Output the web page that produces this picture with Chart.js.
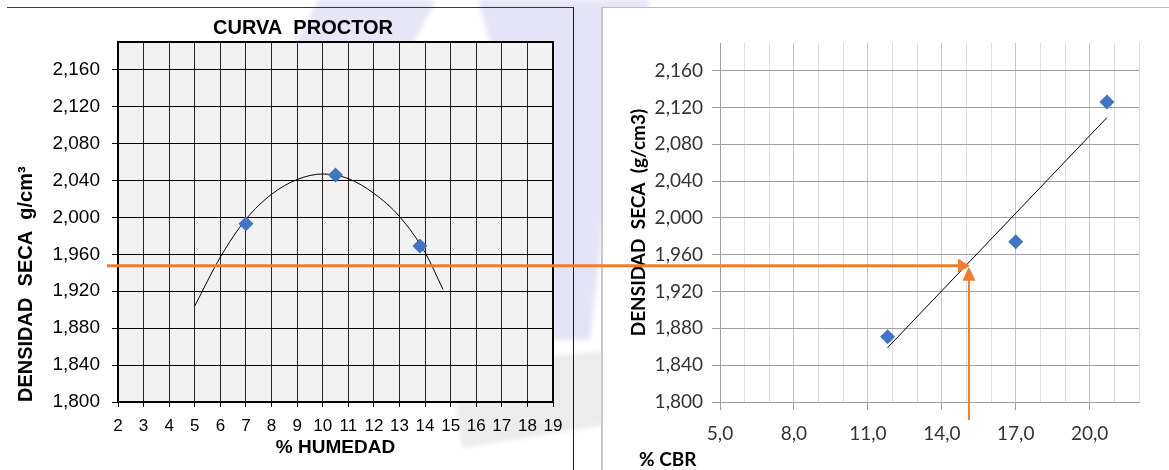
<!DOCTYPE html>
<html>
<head>
<meta charset="utf-8">
<title>Curva Proctor y CBR</title>
<script src="https://cdn.jsdelivr.net/npm/chart.js@4.4.1/dist/chart.umd.min.js"></script>
<style>
  html, body { margin: 0; padding: 0; background: #fff; }
  body { width: 1169px; height: 470px; position: relative; overflow: hidden; }
  .abs { position: absolute; left: 0; top: 0; }
  #marca { z-index: 0; }
  #linea-sup { position: absolute; left: 7px; top: 7px; width: 566px; height: 1px; background: #3a3a3a; z-index: 1; }
  #linea-div { position: absolute; left: 573px; top: 7px; width: 1px; height: 463px; background: #1a1a1a; z-index: 1; }
  #panel-cbr { position: absolute; left: 601px; top: 7px; width: 568px; height: 463px; background: #fff;
               border-left: 2px solid #c8c8c8; border-top: 1px solid #bdbdbd; box-sizing: border-box; z-index: 1; }
  #proctor { z-index: 2; }
  #cbr { z-index: 3; }
</style>
</head>
<body>
<svg id="marca" class="abs" width="1169" height="470">
  <defs><filter id="suave"><feGaussianBlur stdDeviation="2.5"/></filter></defs>
  <g filter="url(#suave)">
    <polygon points="318,0 436,0 412,46 294,46" fill="#e6e6f7"/>
    <polygon points="478,0 650,0 612,150 590,340 548,340 520,150" fill="#e4e4f6"/>
    <polygon points="452,366 612,350 612,424 462,448" fill="#ececec"/>
  </g>
</svg>
<div id="linea-sup"></div>
<div id="linea-div"></div>
<div id="panel-cbr"></div>
<canvas id="proctor" class="abs" width="573" height="470"></canvas>
<canvas id="cbr" class="abs" width="1169" height="470"></canvas>

<script>
// Ensayo Proctor: humedad (%) y densidad seca (g/cm3)
const humedad = [7.0, 10.5, 13.8];
const densidadProctor = [1.993, 2.046, 1.969];

// Curva de compactación trazada sobre los puntos
const curvaHumedad = [5, 6, 7, 8, 9, 10, 11, 12, 13, 14, 14.7];
const curvaDensidad = [1.904, 1.957, 1.998, 2.025, 2.041, 2.047, 2.042, 2.026, 2.001, 1.962, 1.922];

// Ensayo CBR: % CBR y densidad seca (g/cm3)
const cbr = [11.8, 17.0, 20.7];
const densidadCbr = [1.871, 1.974, 2.126];

// Línea de tendencia CBR
const tendenciaCbr = [11.8, 20.7];
const tendenciaDensidad = [1.859, 2.109];

// Lectura: densidad de diseño llevada a la recta del CBR
const densidadDiseno = 1.948;
const cbrDiseno = 15.1;

// Ejes
const densidadTicks = [1.800, 1.840, 1.880, 1.920, 1.960, 2.000, 2.040, 2.080, 2.120, 2.160];
const humedadTicks = [2, 3, 4, 5, 6, 7, 8, 9, 10, 11, 12, 13, 14, 15, 16, 17, 18, 19];
const cbrGrid = [5, 6, 7, 8, 9, 10, 11, 12, 13, 14, 15, 16, 17, 18, 19, 20, 21, 22];
const cbrLabels = [5, 8, 11, 14, 17, 20];

const NARROW = '"Liberation Sans Narrow", "Arial Narrow", "Liberation Sans", Arial, sans-serif';
const ARIAL = '"Liberation Sans", Arial, sans-serif';
const CALIBRI = 'Lato, "Open Sans", sans-serif';
const AZUL = '#4472c4';
const NARANJA = '#ed7d31';

const coma = (v, d) => v.toFixed(d).replace('.', ',');
const pares = (xs, ys) => xs.map((x, i) => ({ x: x, y: ys[i] }));
const fijarTicks = lista => scale => { scale.ticks = lista.map(v => ({ value: v })); };

// Fondo y marco del área de trazado
const marcoArea = {
  id: 'marcoArea',
  beforeDraw(chart, args, opts) {
    if (!opts.fill) return;
    const { ctx, chartArea: a } = chart;
    ctx.save();
    ctx.fillStyle = opts.fill;
    ctx.fillRect(a.left, a.top, a.width, a.height);
    ctx.restore();
  },
  afterDraw(chart, args, opts) {
    if (!opts.stroke) return;
    const { ctx, chartArea: a } = chart;
    ctx.save();
    ctx.strokeStyle = opts.stroke;
    ctx.lineWidth = 2;
    ctx.strokeRect(a.left, a.top, a.width, a.height);
    ctx.restore();
  }
};

// Textos sueltos colocados respecto al área de trazado
const rotulos = {
  id: 'rotulos',
  afterDraw(chart, args, opts) {
    const { ctx, chartArea: a } = chart;
    (opts.items || []).forEach(r => {
      ctx.save();
      ctx.font = r.font;
      ctx.fillStyle = r.color;
      ctx.textAlign = r.align;
      ctx.textBaseline = 'middle';
      ctx.fillText(r.text, a.left + r.dx, (r.desdeAbajo ? a.bottom : a.top) + r.dy);
      ctx.restore();
    });
  }
};

// Flechas naranjas: densidad de diseño -> recta -> CBR
const flechas = {
  id: 'flechas',
  afterDatasetsDraw(chart, args, o) {
    const { ctx, scales: { x, y } } = chart;
    const px = x.getPixelForValue(o.cbr);
    const py = y.getPixelForValue(o.densidad);
    const base = y.getPixelForValue(y.min) + 18;
    ctx.save();
    ctx.strokeStyle = o.color;
    ctx.fillStyle = o.color;
    ctx.lineWidth = 3;
    ctx.beginPath();
    ctx.moveTo(o.desde, py);
    ctx.lineTo(px - 10, py);
    ctx.stroke();
    ctx.beginPath();
    ctx.moveTo(px + 1, py);
    ctx.lineTo(px - 11, py - 7);
    ctx.lineTo(px - 11, py + 7);
    ctx.closePath();
    ctx.fill();
    ctx.lineWidth = 2;
    ctx.beginPath();
    ctx.moveTo(px, base);
    ctx.lineTo(px, py + 12);
    ctx.stroke();
    ctx.beginPath();
    ctx.moveTo(px, py + 1);
    ctx.lineTo(px - 6.5, py + 15);
    ctx.lineTo(px + 6.5, py + 15);
    ctx.closePath();
    ctx.fill();
    ctx.restore();
  }
};

Chart.defaults.animation = false;
Chart.defaults.events = [];

// Curva Proctor
new Chart(document.getElementById('proctor'), {
  type: 'scatter',
  data: {
    datasets: [{
      data: pares(humedad, densidadProctor),
      pointStyle: 'rectRot',
      pointRadius: 7.5,
      backgroundColor: AZUL,
      borderColor: AZUL,
      borderWidth: 0,
      order: 0
    }, {
      data: pares(curvaHumedad, curvaDensidad),
      showLine: true,
      borderColor: '#000',
      borderWidth: 1,
      pointRadius: 0,
      cubicInterpolationMode: 'monotone',
      order: 1
    }]
  },
  options: {
    responsive: false,
    layout: { padding: { left: 0, right: 20, top: 42, bottom: 0 } },
    plugins: {
      legend: { display: false },
      tooltip: { enabled: false },
      marcoArea: { fill: '#f2f2f2', stroke: '#000' },
      rotulos: {
        items: [{ text: 'CURVA  PROCTOR', font: 'bold 20px ' + NARROW, color: '#000', align: 'center', dx: 185, dy: -14 }]
      }
    },
    scales: {
      x: {
        min: 2, max: 19,
        afterFit: s => { s.height = 68; },
        afterBuildTicks: fijarTicks(humedadTicks),
        border: { display: false },
        grid: { color: '#262626', lineWidth: 1, tickLength: 5, tickColor: '#000' },
        ticks: { color: '#000', font: { family: NARROW, size: 17 }, padding: 9, maxRotation: 0, autoSkip: false },
        title: {
          display: true, text: '% HUMEDAD', color: '#000',
          font: { family: NARROW, size: 19, weight: 'bold', lineHeight: 1.2 },
          padding: { top: 0, bottom: 11 }
        }
      },
      y: {
        min: 1.8, max: 2.19,
        afterFit: s => { s.width = 118; },
        afterBuildTicks: fijarTicks(densidadTicks),
        border: { display: false },
        grid: { color: '#000', lineWidth: 1, tickLength: 6, tickColor: '#000' },
        ticks: { color: '#000', font: { family: NARROW, size: 19 }, padding: 12, callback: v => coma(v, 3) },
        title: {
          display: true, text: 'DENSIDAD  SECA  g/cm³', color: '#000', align: 'start',
          font: { family: ARIAL, size: 20, weight: 'bold', lineHeight: 1.2 },
          padding: { top: 14, bottom: 0 }
        }
      }
    }
  },
  plugins: [marcoArea, rotulos]
});

// Densidad seca vs % CBR
new Chart(document.getElementById('cbr'), {
  type: 'scatter',
  data: {
    datasets: [{
      data: pares(cbr, densidadCbr),
      pointStyle: 'rectRot',
      pointRadius: 7.5,
      backgroundColor: AZUL,
      borderColor: AZUL,
      borderWidth: 0,
      order: 0
    }, {
      data: pares(tendenciaCbr, tendenciaDensidad),
      showLine: true,
      borderColor: '#000',
      borderWidth: 1,
      pointRadius: 0,
      order: 1
    }]
  },
  options: {
    responsive: false,
    layout: { padding: { left: 600, right: 30, top: 43, bottom: 0 } },
    plugins: {
      legend: { display: false },
      tooltip: { enabled: false },
      rotulos: {
        items: [{ text: '% CBR', font: 'bold 19px ' + CALIBRI, color: '#000', align: 'left', dx: -81, dy: 58, desdeAbajo: true }]
      },
      flechas: { cbr: cbrDiseno, densidad: densidadDiseno, color: NARANJA, desde: 107 }
    },
    scales: {
      x: {
        min: 5, max: 22,
        afterFit: s => { s.height = 68; },
        afterBuildTicks: fijarTicks(cbrGrid),
        border: { color: '#a0a0a0', width: 1 },
        grid: {
          color: c => cbrLabels.includes(c.tick.value) ? '#c6c6c6' : '#dedede',
          tickColor: c => cbrLabels.includes(c.tick.value) ? '#a0a0a0' : 'rgba(0,0,0,0)',
          tickLength: 8
        },
        ticks: {
          color: '#333', font: { family: CALIBRI, size: 19 }, padding: 12, maxRotation: 0, autoSkip: false,
          callback: v => cbrLabels.includes(v) ? coma(v, 1) : ''
        }
      },
      y: {
        min: 1.8, max: 2.19,
        afterFit: s => { s.width = 120; },
        afterBuildTicks: fijarTicks(densidadTicks),
        border: { color: '#a0a0a0', width: 1 },
        grid: { color: '#a0a0a0', lineWidth: 1, tickLength: 8, tickColor: '#a0a0a0' },
        ticks: { color: '#333', font: { family: CALIBRI, size: 19 }, padding: 9, callback: v => coma(v, 3) },
        title: {
          display: true, text: 'DENSIDAD  SECA  (g/cm3)', color: '#000',
          font: { family: CALIBRI, size: 19, weight: 'bold', lineHeight: 1.2 },
          padding: { top: 27, bottom: 0 }
        }
      }
    }
  },
  plugins: [rotulos, flechas]
});
</script>
</body>
</html>
